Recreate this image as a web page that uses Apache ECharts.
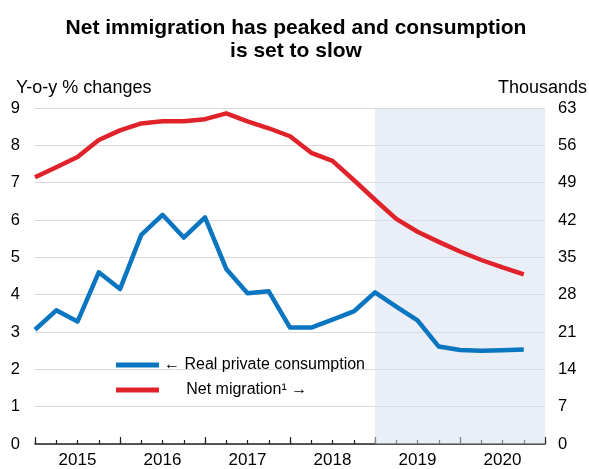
<!DOCTYPE html>
<html>
<head>
<meta charset="utf-8">
<script src="https://cdn.jsdelivr.net/npm/echarts@6/dist/echarts.min.js"></script>
<style>html,body{margin:0;padding:0;background:#fff}#c{width:589px;height:469px}</style>
</head>
<body>
<div id="c"></div>
<script>
// Quarterly categories (extra trailing boundary for the axis end)
const quarters = [
  '2015-Q1','2015-Q2','2015-Q3','2015-Q4',
  '2016-Q1','2016-Q2','2016-Q3','2016-Q4',
  '2017-Q1','2017-Q2','2017-Q3','2017-Q4',
  '2018-Q1','2018-Q2','2018-Q3','2018-Q4',
  '2019-Q1','2019-Q2','2019-Q3','2019-Q4',
  '2020-Q1','2020-Q2','2020-Q3','2020-Q4',
  '2021-Q1'
];
// Real private consumption, y-o-y % change (left axis)
const consumption = [3.06, 3.58, 3.28, 4.60, 4.15, 5.60, 6.14, 5.53, 6.07, 4.69, 4.04, 4.09,
                     3.12, 3.12, 3.33, 3.55, 4.06, 3.68, 3.31, 2.61, 2.52, 2.50, 2.51, 2.53];
// Net migration, thousands (right axis)
const migration = [50.0, 51.9, 53.8, 57.0, 58.8, 60.1, 60.5, 60.5, 60.9, 62.0, 60.5, 59.2,
                   57.7, 54.6, 53.1, 49.5, 45.8, 42.2, 39.8, 37.9, 36.1, 34.5, 33.1, 31.8];
const leftTicks = {min: 0, max: 9, interval: 1};
const rightTicks = {min: 0, max: 63, interval: 7};
const forecastStart = '2019-Q1';
const forecastEnd = '2021-Q1';
const seriesNames = ['← Real private consumption', 'Net migration¹ →'];

const FONT = 'Liberation Sans, Arial, sans-serif';
const chart = echarts.init(document.getElementById('c'), null, {renderer: 'canvas'});
chart.setOption({
  animation: false,
  textStyle: {fontFamily: FONT},
  title: [
    {text: 'Net immigration has peaked and consumption\nis set to slow', left: 291, top: 12,
     textAlign: 'center',
     textStyle: {fontSize: 21, fontWeight: 'bold', color: '#000', lineHeight: 23, fontFamily: FONT}},
    {text: 'Y-o-y % changes', left: 16, top: 79, padding: 0, textStyle: {fontSize: 18, fontWeight: 'normal', color: '#000', fontFamily: FONT}},
    {text: 'Thousands', right: 2, top: 79, padding: 0, textStyle: {fontSize: 18, fontWeight: 'normal', color: '#000', fontFamily: FONT}}
  ],
  legend: {
    orient: 'vertical', left: 116, top: 355, padding: 0,
    itemWidth: 43, itemHeight: 5, itemGap: 5, icon: 'rect',
    data: seriesNames,
    textStyle: {fontSize: 16, color: '#000', lineHeight: 20, fontFamily: FONT},
    formatter: function (n) { return n === seriesNames[1] ? '     ' + n : n; },
    selectedMode: false
  },
  grid: {left: 35, right: 44, top: 108, bottom: 25, containLabel: false},
  xAxis: [
    {type: 'category', data: quarters, boundaryGap: false,
     axisLine: {lineStyle: {color: '#222', width: 1.5}},
     axisTick: {interval: 0, length: 4, inside: true, lineStyle: {color: '#222', width: 1.2}},
     axisLabel: {interval: 0, margin: 8, fontSize: 17, color: '#000',
       formatter: function (v) { return v.slice(-2) === 'Q3' ? v.slice(0, 4) : ''; }},
     splitLine: {show: false}},
    {type: 'category', data: quarters, boundaryGap: false, position: 'bottom',
     axisLine: {show: false},
     axisTick: {interval: 3, length: 7, inside: true, lineStyle: {color: '#222', width: 1.2}},
     axisLabel: {show: false}, splitLine: {show: false}}
  ],
  yAxis: [
    {type: 'value', min: leftTicks.min, max: leftTicks.max, interval: leftTicks.interval,
     axisLine: {show: false}, axisTick: {show: false},
     axisLabel: {fontSize: 16.5, color: '#000', margin: 15},
     splitLine: {lineStyle: {color: '#d9d9d9', width: 1}}},
    {type: 'value', min: rightTicks.min, max: rightTicks.max, interval: rightTicks.interval, position: 'right',
     axisLine: {show: false}, axisTick: {show: false},
     axisLabel: {fontSize: 16.5, color: '#000', margin: 13},
     splitLine: {show: false}}
  ],
  series: [
    {name: seriesNames[0], type: 'line', xAxisIndex: 0, yAxisIndex: 0, data: consumption,
     symbol: 'none', lineStyle: {color: '#0a76c2', width: 4.5, join: 'round'}, itemStyle: {color: '#0a76c2'}, z: 3,
     markArea: {silent: true, itemStyle: {color: 'rgba(214,221,238,0.5)'},
       data: [[{xAxis: forecastStart}, {xAxis: forecastEnd}]]}},
    {name: seriesNames[1], type: 'line', xAxisIndex: 0, yAxisIndex: 1, data: migration,
     symbol: 'none', lineStyle: {color: '#e0232a', width: 4.5, join: 'round'}, itemStyle: {color: '#e0232a'}, z: 3}
  ]
});
</script>
</body>
</html>
